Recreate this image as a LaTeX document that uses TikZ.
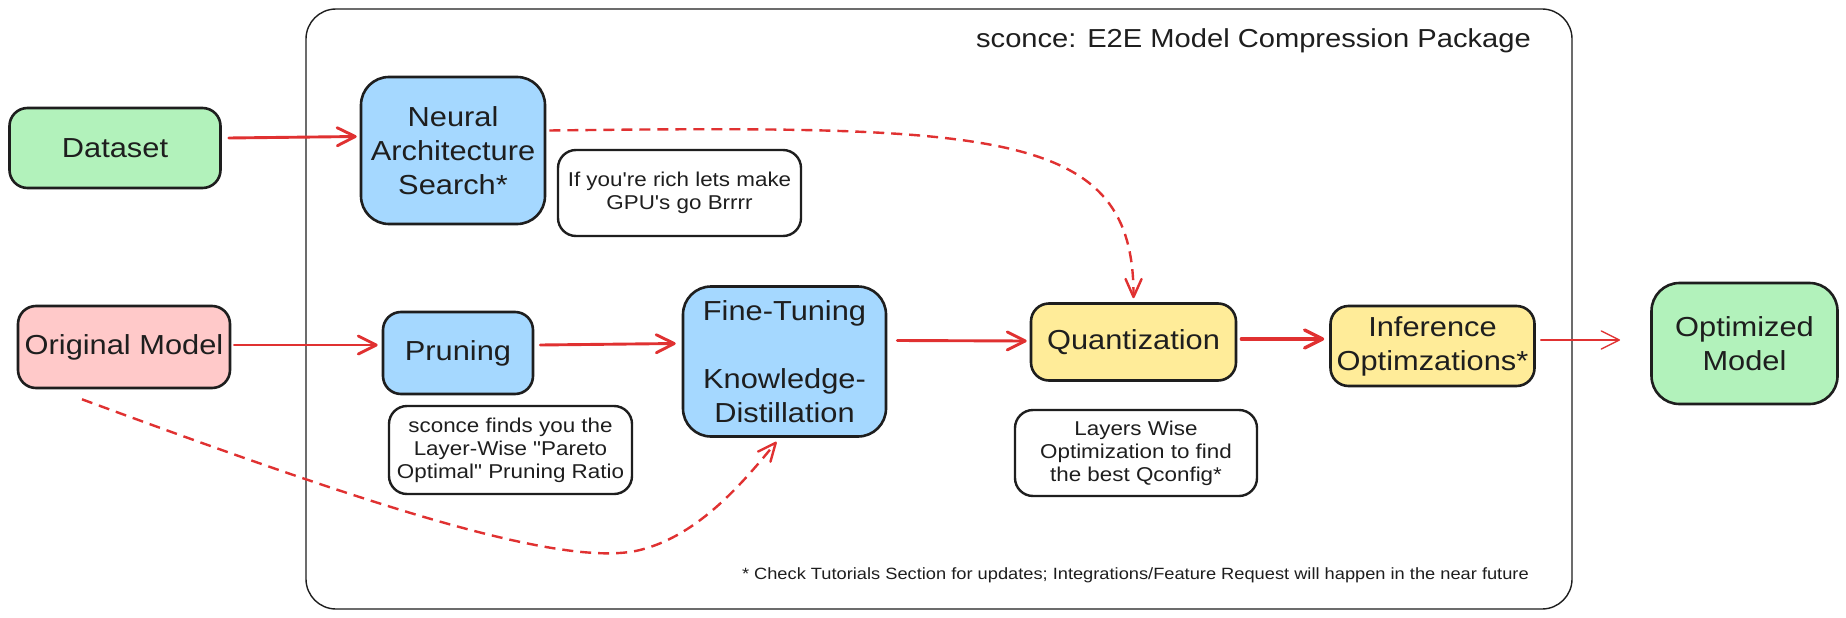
\documentclass[tikz,border=0pt]{standalone}
\usepackage{fontspec}
\setmainfont[FakeStretch=1.12,Ligatures=TeXOff]{Liberation Sans}
\usetikzlibrary{arrows.meta,calc}
\definecolor{exred}{HTML}{E03131}
\definecolor{exdark}{HTML}{1E1E1E}
\definecolor{exgreen}{HTML}{B2F2BB}
\definecolor{exblue}{HTML}{A5D8FF}
\definecolor{expink}{HTML}{FFC9C9}
\definecolor{exyellow}{HTML}{FFEC99}
\tikzset{
  box/.style={draw=exdark, line width=2.6pt, align=center, inner sep=0pt,
    font=\fontsize{27.5}{34}\selectfont, text=exdark},
  notebox/.style={draw=exdark, line width=2.4pt, fill=white, align=center, inner sep=0pt,
    rounded corners=18pt, font=\fontsize{20}{23}\selectfont, text=exdark},
  sarrow/.style={draw=exred, line width=2.9pt, line cap=round,
    -{Straight Barb[length=18pt,width=18pt,round]}},
  tarrow/.style={draw=exred, line width=1.4pt, line cap=round,
    -{Straight Barb[length=18pt,width=18pt,round]}},
  darrow/.style={draw=exred, line width=2.4pt, dash pattern=on 11pt off 7pt,
    -{Straight Barb[length=18pt,width=16pt,round]}}
}
\begin{document}
\begin{tikzpicture}[x=1pt,y=-1pt]
\useasboundingbox (0,0) rectangle (1846,618);
\fill[white] (0,0) rectangle (1846,618);
% frame
\draw[exdark, line width=1.4pt, rounded corners=30pt] (306,9) rectangle (1572,609);
\node[anchor=east, text=exdark, inner sep=0pt, font=\fontsize{26}{30}\selectfont] (title) at (1531,41) {sconce: E2E Model Compression Package};
\node[anchor=east, text=exdark, inner sep=0pt, font=\fontsize{16.3}{18}\selectfont] (foot) at (1529,575) {* Check Tutorials Section for updates; Integrations/Feature Request will happen in the near future};
% nodes
\node[box, fill=exgreen, rounded corners=18pt, minimum width=211pt, minimum height=80pt] (dataset) at (115,148) {Dataset};
\node[box, fill=exblue, rounded corners=28pt, minimum width=184pt, minimum height=147pt] (nas) at (453,150.5) {Neural\\Architecture\\Search*};
\node[notebox, minimum width=243pt, minimum height=86pt] (note1) at (679.5,193) {If you're rich lets make\\GPU's go Brrrr};
\node[box, fill=expink, rounded corners=18pt, minimum width=212pt, minimum height=82pt] (orig) at (124,347) {Original Model};
\node[box, fill=exblue, rounded corners=18pt, minimum width=150pt, minimum height=82pt] (pruning) at (458,353) {Pruning};
\node[notebox, minimum width=243pt, minimum height=88pt] (note2) at (510.5,450) {sconce finds you the\\Layer-Wise "Pareto\\Optimal" Pruning Ratio};
\node[box, fill=exblue, rounded corners=28pt, minimum width=203pt, minimum height=150pt] (fine) at (784.5,361.5) {Fine-Tuning\\[34pt]Knowledge-\\Distillation};
\node[box, fill=exyellow, rounded corners=18pt, minimum width=205pt, minimum height=77pt] (quant) at (1133.5,342) {Quantization};
\node[notebox, minimum width=242pt, minimum height=86pt] (note3) at (1136,453) {Layers Wise\\Optimization to find\\the best Qconfig*};
\node[box, fill=exyellow, rounded corners=18pt, minimum width=204pt, minimum height=80pt] (infer) at (1432.5,346) {Inference\\Optimzations*};
\node[box, fill=exgreen, rounded corners=28pt, minimum width=186pt, minimum height=121pt] (optim) at (1744.5,343.5) {Optimized\\Model};
\coordinate (optimend) at (1620,340);
% solid arrows
\draw[sarrow] ($(dataset.east)+(7,-10)$) -- ($(nas.west)+(-3,-14)$);
\draw[sarrow] ($(orig.east)+(3,-2)$) -- ($(pruning.west)+(-4,-8)$);
\draw[sarrow] ($(pruning.east)+(6,-8)$) -- ($(fine.west)+(-6,-18)$);
\draw[sarrow] ($(fine.east)+(10,-21)$) -- ($(quant.west)+(-3,-1)$);
\draw[sarrow, line width=3.3pt] ($(quant.east)+(4,-3)$) -- ($(infer.west)+(-5,-7)$);
\draw[tarrow] ($(infer.east)+(5,-6)$) -- (optimend);
% dashed arrows
\draw[darrow] ($(nas.east)+(3,-20)$) .. controls (1000,125) and (1134,130) .. ($(quant.north)+(0,-4)$);
\draw[darrow] ($(orig.south)+(-42,10)$) .. controls (350,498) and (560,570) .. (640,550) .. controls (700,535) and (745,480) .. ($(fine.south)+(-8,4)$);
\end{tikzpicture}
\end{document}
